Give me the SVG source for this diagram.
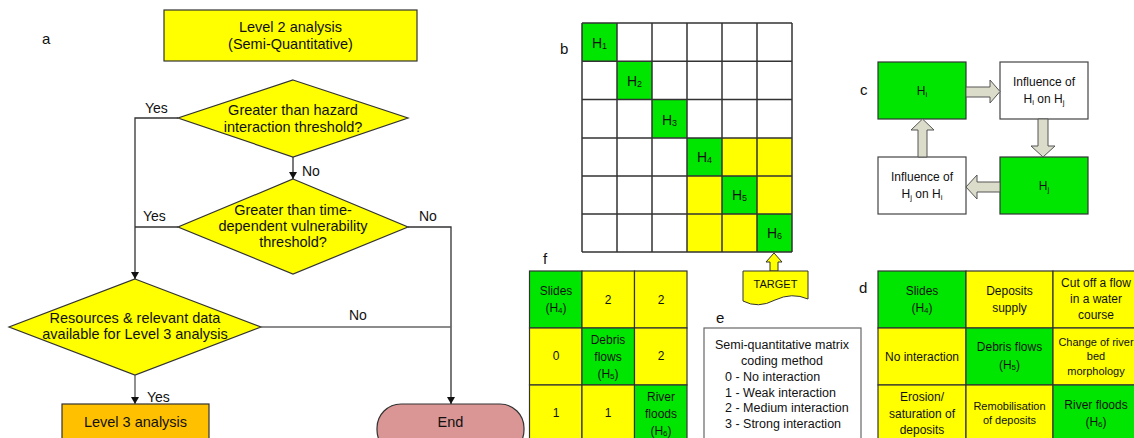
<svg xmlns="http://www.w3.org/2000/svg" width="1134" height="438" viewBox="0 0 1134 438">
<defs>
<style>
text{font-family:"Liberation Sans",Arial,sans-serif;fill:#111;}
.t14{font-size:14.5px;text-anchor:middle;dominant-baseline:central;}
.lbl{font-size:14px;dominant-baseline:central;}
.pl{font-size:15px;dominant-baseline:central;}
.t12{font-size:12px;text-anchor:middle;dominant-baseline:central;}
.t11{font-size:11px;text-anchor:middle;dominant-baseline:central;}
.th{font-size:14px;text-anchor:middle;dominant-baseline:central;}
.yel{fill:#ffff00;stroke:#333;stroke-width:1.2;}
.grn{fill:#00e600;stroke:#333;stroke-width:1.2;}
.wht{fill:#fff;stroke:#444;stroke-width:1.2;}
.conn{fill:none;stroke:#333;stroke-width:1.3;}
.blk{fill:#dcdccb;stroke:#555;stroke-width:1;}
.grid{stroke:#333;stroke-width:1.5;fill:none;}
</style>
<marker id="ah" viewBox="0 0 10 10" refX="10" refY="5" markerWidth="7" markerHeight="8" markerUnits="userSpaceOnUse" orient="auto" preserveAspectRatio="none">
<path d="M0,0 L10,5 L0,10 Z" fill="#111"/>
</marker>
</defs>
<rect width="1134" height="438" fill="#fff"/>

<!-- panel a -->
<text class="pl" x="42" y="38">a</text>
<g id="level2">
<rect class="yel" x="164" y="10" width="253" height="51"/>
<text class="t14" x="290.5" y="27">Level 2 analysis</text>
<text class="t14" x="290.5" y="44">(Semi-Quantitative)</text>
</g>
<g id="dec1">
<polygon class="yel" points="293,80 408,118 293,157 178,118"/>
<text class="t14" x="293" y="110">Greater than hazard</text>
<text class="t14" x="293" y="127">interaction threshold?</text>
</g>
<g id="dec2">
<polygon class="yel" points="293,179 408,227 293,274 178,227"/>
<text class="t14" x="293" y="210">Greater than time-</text>
<text class="t14" x="293" y="226">dependent vulnerability</text>
<text class="t14" x="293" y="242">threshold?</text>
</g>
<g id="dec3">
<polygon class="yel" points="135,279 261,327 135,375 9,327"/>
<text class="t14" x="135" y="318">Resources &amp; relevant data</text>
<text class="t14" x="135" y="334">available for Level 3 analysis</text>
</g>
<g id="level3">
<rect x="62" y="404" width="147" height="50" fill="#ffc000" stroke="#333" stroke-width="1.2"/>
<text class="t14" x="135.5" y="422">Level 3 analysis</text>
</g>
<g id="end">
<rect x="377" y="404" width="147" height="50" rx="24" fill="#d99694" stroke="#333" stroke-width="1.2"/>
<text class="t14" x="450.5" y="422">End</text>
</g>
<g id="connectors">
<path class="conn" d="M293,157 V179" marker-end="url(#ah)"/>
<path class="conn" d="M178,118 H135 V279" marker-end="url(#ah)"/>
<path class="conn" d="M178,227 H135"/>
<path class="conn" d="M408,227 H451 V404" marker-end="url(#ah)"/>
<path class="conn" d="M261,327 H451" style="stroke:#666"/>
<path class="conn" d="M135,375 V404" marker-end="url(#ah)" style="stroke:#555"/>
<text class="lbl" x="145" y="108">Yes</text>
<text class="lbl" x="302" y="171">No</text>
<text class="lbl" x="143" y="216">Yes</text>
<text class="lbl" x="419" y="216">No</text>
<text class="lbl" x="349" y="315">No</text>
<text class="lbl" x="147" y="397">Yes</text>
</g>

<!-- panel b -->
<text class="pl" x="560" y="48">b</text>
<g id="matrixB">
<rect x="582" y="23" width="210" height="229" fill="#fff"/>
<rect x="687" y="138" width="105" height="114" fill="#ffff00"/>
<rect x="582" y="23" width="35" height="38.3" fill="#00e600"/>
<rect x="617" y="61.3" width="35" height="38.3" fill="#00e600"/>
<rect x="652" y="99.6" width="35" height="38.3" fill="#00e600"/>
<rect x="687" y="138" width="35" height="38" fill="#00e600"/>
<rect x="722" y="176" width="35" height="38" fill="#00e600"/>
<rect x="757" y="214" width="35" height="38" fill="#00e600"/>
<path class="grid" d="M582,23 V252 M617,23 V252 M652,23 V252 M687,23 V252 M722,23 V252 M757,23 V252 M792,23 V252 M582,23 H792 M582,61.3 H792 M582,99.6 H792 M582,138 H792 M582,176 H792 M582,214 H792 M582,252 H792"/>
<text class="th" x="599.5" y="43">H<tspan font-size="9" dy="3">1</tspan></text>
<text class="th" x="634.5" y="81">H<tspan font-size="9" dy="3">2</tspan></text>
<text class="th" x="669.5" y="120">H<tspan font-size="9" dy="3">3</tspan></text>
<text class="th" x="704.5" y="157">H<tspan font-size="9" dy="3">4</tspan></text>
<text class="th" x="739.5" y="195">H<tspan font-size="9" dy="3">5</tspan></text>
<text class="th" x="774.5" y="233">H<tspan font-size="9" dy="3">6</tspan></text>
</g>
<g id="target">
<polygon points="774,253 782,262 778,262 778,271 770,271 770,262 766,262" fill="#ffff00" stroke="#333" stroke-width="1"/>
<path d="M743,271 H808 V299 Q792,292 775,300 Q758,309 743,301 Z" fill="#ffff00" stroke="#333" stroke-width="1"/>
<text class="t11" x="775.5" y="284">TARGET</text>
</g>

<!-- panel c -->
<text class="pl" x="860" y="89">c</text>
<g id="cHi">
<rect class="grn" x="878" y="62" width="88" height="57"/>
<text class="t12" x="922" y="91">H<tspan font-size="8" dy="3">i</tspan></text>
</g>
<g id="cInfIJ">
<rect class="wht" x="1000" y="62" width="88" height="57"/>
<text class="t12" x="1044" y="82">Influence of</text>
<text class="t12" x="1044" y="99">H<tspan font-size="8" dy="3">i</tspan><tspan dy="-3"> on H</tspan><tspan font-size="8" dy="3">j</tspan></text>
</g>
<g id="cHj">
<rect class="grn" x="1000" y="157" width="88" height="57"/>
<text class="t12" x="1044" y="186">H<tspan font-size="8" dy="3">j</tspan></text>
</g>
<g id="cInfJI">
<rect class="wht" x="878" y="157" width="88" height="57"/>
<text class="t12" x="922" y="177">Influence of</text>
<text class="t12" x="922" y="194">H<tspan font-size="8" dy="3">j</tspan><tspan dy="-3"> on H</tspan><tspan font-size="8" dy="3">i</tspan></text>
</g>
<g id="cArrows">
<polygon class="blk" points="966,87 990,87 990,80 1000,91.5 990,103 990,97 966,97"/>
<polygon class="blk" points="1038,119 1048,119 1048,146 1055,146 1043,157 1031,146 1038,146"/>
<polygon class="blk" points="1000,182 977,182 977,175 966,187 977,199 977,192 1000,192"/>
<polygon class="blk" points="918,157 927,157 927,130 934,130 922.5,119 911,130 918,130"/>
</g>

<!-- panel f -->
<text class="pl" x="543" y="258">f</text>
<g id="tableF">
<rect class="grn" x="529.5" y="271" width="52.5" height="57"/>
<rect class="yel" x="582" y="271" width="52.5" height="57"/>
<rect class="yel" x="634.5" y="271" width="52.5" height="57"/>
<rect class="yel" x="529.5" y="328" width="52.5" height="57"/>
<rect class="grn" x="582" y="328" width="52.5" height="57"/>
<rect class="yel" x="634.5" y="328" width="52.5" height="57"/>
<rect class="yel" x="529.5" y="385" width="52.5" height="57"/>
<rect class="yel" x="582" y="385" width="52.5" height="57"/>
<rect class="grn" x="634.5" y="385" width="52.5" height="57"/>
<text class="t12" x="556" y="291">Slides</text>
<text class="t12" x="556" y="308">(H<tspan font-size="8" dy="2">4</tspan><tspan dy="-2">)</tspan></text>
<text class="t12" x="608" y="300">2</text>
<text class="t12" x="661" y="300">2</text>
<text class="t12" x="556" y="356">0</text>
<text class="t12" x="608" y="340">Debris</text>
<text class="t12" x="608" y="357">flows</text>
<text class="t12" x="608" y="374">(H<tspan font-size="8" dy="2">5</tspan><tspan dy="-2">)</tspan></text>
<text class="t12" x="661" y="356">2</text>
<text class="t12" x="556" y="413">1</text>
<text class="t12" x="608" y="413">1</text>
<text class="t12" x="661" y="397">River</text>
<text class="t12" x="661" y="414">floods</text>
<text class="t12" x="661" y="431">(H<tspan font-size="8" dy="2">6</tspan><tspan dy="-2">)</tspan></text>
</g>

<!-- panel e -->
<text class="pl" x="716" y="317">e</text>
<g id="legendE">
<rect x="704" y="328" width="157" height="120" fill="#fff" stroke="#666" stroke-width="1.2"/>
<text x="782" y="345" style="font-size:12.5px;text-anchor:middle;dominant-baseline:central">Semi-quantitative matrix</text>
<text x="782" y="361" style="font-size:12.5px;text-anchor:middle;dominant-baseline:central">coding method</text>
<text x="725" y="377" style="font-size:12.5px;dominant-baseline:central">0 - No interaction</text>
<text x="725" y="393" style="font-size:12.5px;dominant-baseline:central">1 - Weak interaction</text>
<text x="725" y="408" style="font-size:12.5px;dominant-baseline:central">2 - Medium interaction</text>
<text x="725" y="424" style="font-size:12.5px;dominant-baseline:central">3 - Strong interaction</text>
</g>

<!-- panel d -->
<text class="pl" x="859" y="287">d</text>
<g id="tableD">
<rect class="grn" x="878" y="271" width="88" height="57"/>
<rect class="yel" x="966" y="271" width="87" height="57"/>
<rect class="yel" x="1053" y="271" width="88" height="57"/>
<rect class="yel" x="878" y="328" width="88" height="57"/>
<rect class="grn" x="966" y="328" width="87" height="57"/>
<rect class="yel" x="1053" y="328" width="88" height="57"/>
<rect class="yel" x="878" y="385" width="88" height="57"/>
<rect class="yel" x="966" y="385" width="87" height="57"/>
<rect class="grn" x="1053" y="385" width="88" height="57"/>
<text class="t12" x="922" y="291">Slides</text>
<text class="t12" x="922" y="308">(H<tspan font-size="8" dy="2">4</tspan><tspan dy="-2">)</tspan></text>
<text class="t12" x="1009.5" y="291">Deposits</text>
<text class="t12" x="1009.5" y="308">supply</text>
<text class="t12" x="1096" y="283">Cut off a flow</text>
<text class="t12" x="1096" y="299">in a water</text>
<text class="t12" x="1096" y="315">course</text>
<text class="t12" x="922" y="357">No interaction</text>
<text class="t12" x="1009.5" y="347">Debris flows</text>
<text class="t12" x="1009.5" y="365">(H<tspan font-size="8" dy="2">5</tspan><tspan dy="-2">)</tspan></text>
<text class="t11" x="1096" y="342">Change of river</text>
<text class="t11" x="1096" y="356">bed</text>
<text class="t11" x="1096" y="371">morphology</text>
<text class="t12" x="922" y="397">Erosion/</text>
<text class="t12" x="922" y="414">saturation of</text>
<text class="t12" x="922" y="430">deposits</text>
<text class="t11" x="1009.5" y="406">Remobilisation</text>
<text class="t11" x="1009.5" y="420">of deposits</text>
<text class="t12" x="1096" y="405">River floods</text>
<text class="t12" x="1096" y="422">(H<tspan font-size="8" dy="2">6</tspan><tspan dy="-2">)</tspan></text>
</g>
</svg>
